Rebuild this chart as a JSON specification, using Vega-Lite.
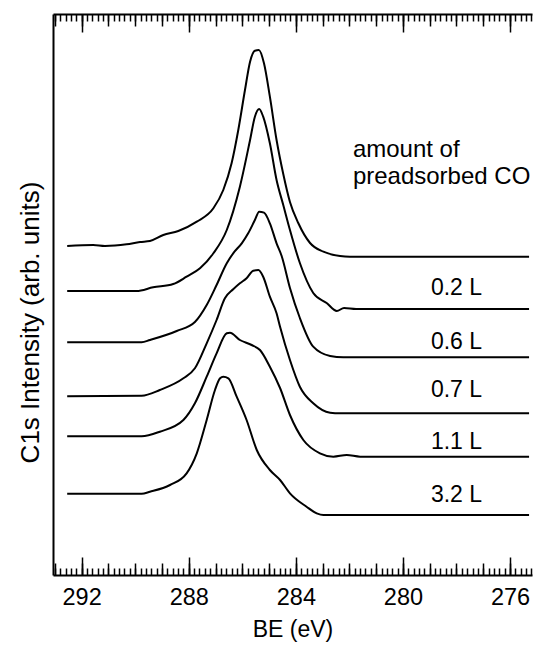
{
  "$schema": "https://vega.github.io/schema/vega-lite/v6.json",
  "width": 479,
  "height": 561,
  "autosize": {"type": "none"},
  "padding": {"left": 53, "top": 14, "right": 3, "bottom": 70},
  "background": "white",
  "config": {
    "view": {"stroke": null},
    "font": "Liberation Sans",
    "axis": {"grid": false, "domainColor": "black", "tickColor": "black", "labelColor": "black", "titleColor": "black", "titleFontWeight": "normal", "labelFont": "Liberation Sans", "titleFont": "Liberation Sans", "labelFontSize": 23.5, "titleFontSize": 23, "domainWidth": 2, "tickWidth": 1.5}
  },
  "datasets": {
    "curves": [
      {"series": "0 L", "BE": 292.54, "I": 329},
      {"series": "0 L", "BE": 291.57, "I": 330},
      {"series": "0 L", "BE": 291.13, "I": 329},
      {"series": "0 L", "BE": 290.32, "I": 330.7},
      {"series": "0 L", "BE": 289.82, "I": 333},
      {"series": "0 L", "BE": 289.45, "I": 334},
      {"series": "0 L", "BE": 288.95, "I": 340},
      {"series": "0 L", "BE": 288.39, "I": 344},
      {"series": "0 L", "BE": 287.70, "I": 353.3},
      {"series": "0 L", "BE": 287.08, "I": 366.7},
      {"series": "0 L", "BE": 286.71, "I": 385},
      {"series": "0 L", "BE": 286.40, "I": 411.7},
      {"series": "0 L", "BE": 286.15, "I": 445},
      {"series": "0 L", "BE": 285.90, "I": 485},
      {"series": "0 L", "BE": 285.71, "I": 513.3},
      {"series": "0 L", "BE": 285.53, "I": 524.3},
      {"series": "0 L", "BE": 285.38, "I": 525},
      {"series": "0 L", "BE": 285.19, "I": 511.7},
      {"series": "0 L", "BE": 284.97, "I": 478.3},
      {"series": "0 L", "BE": 284.72, "I": 435},
      {"series": "0 L", "BE": 284.47, "I": 401},
      {"series": "0 L", "BE": 284.22, "I": 373},
      {"series": "0 L", "BE": 283.91, "I": 352},
      {"series": "0 L", "BE": 283.47, "I": 332},
      {"series": "0 L", "BE": 282.97, "I": 323.3},
      {"series": "0 L", "BE": 282.35, "I": 319},
      {"series": "0 L", "BE": 281.98, "I": 318.3},
      {"series": "0 L", "BE": 275.29, "I": 318.3},

      {"series": "0.2 L", "BE": 292.54, "I": 284},
      {"series": "0.2 L", "BE": 289.95, "I": 284},
      {"series": "0.2 L", "BE": 289.33, "I": 287.7},
      {"series": "0.2 L", "BE": 288.58, "I": 291},
      {"series": "0.2 L", "BE": 288.08, "I": 298.3},
      {"series": "0.2 L", "BE": 287.58, "I": 306.7},
      {"series": "0.2 L", "BE": 287.08, "I": 321.7},
      {"series": "0.2 L", "BE": 286.58, "I": 345},
      {"series": "0.2 L", "BE": 286.09, "I": 388.3},
      {"series": "0.2 L", "BE": 285.71, "I": 435},
      {"series": "0.2 L", "BE": 285.53, "I": 458.3},
      {"series": "0.2 L", "BE": 285.37, "I": 466},
      {"series": "0.2 L", "BE": 285.22, "I": 458.3},
      {"series": "0.2 L", "BE": 284.97, "I": 431.7},
      {"series": "0.2 L", "BE": 284.72, "I": 395},
      {"series": "0.2 L", "BE": 284.47, "I": 370},
      {"series": "0.2 L", "BE": 284.22, "I": 345},
      {"series": "0.2 L", "BE": 283.85, "I": 312},
      {"series": "0.2 L", "BE": 283.35, "I": 282},
      {"series": "0.2 L", "BE": 282.85, "I": 272},
      {"series": "0.2 L", "BE": 282.47, "I": 264},
      {"series": "0.2 L", "BE": 282.2, "I": 267},
      {"series": "0.2 L", "BE": 281.75, "I": 266},
      {"series": "0.2 L", "BE": 275.29, "I": 266},

      {"series": "0.6 L", "BE": 292.54, "I": 232.7},
      {"series": "0.6 L", "BE": 289.76, "I": 232.7},
      {"series": "0.6 L", "BE": 289.45, "I": 235},
      {"series": "0.6 L", "BE": 288.45, "I": 244},
      {"series": "0.6 L", "BE": 287.77, "I": 253},
      {"series": "0.6 L", "BE": 287.33, "I": 270},
      {"series": "0.6 L", "BE": 286.96, "I": 290},
      {"series": "0.6 L", "BE": 286.58, "I": 311.7},
      {"series": "0.6 L", "BE": 286.34, "I": 321.7},
      {"series": "0.6 L", "BE": 286.02, "I": 331.7},
      {"series": "0.6 L", "BE": 285.78, "I": 341.7},
      {"series": "0.6 L", "BE": 285.53, "I": 355},
      {"series": "0.6 L", "BE": 285.37, "I": 363.3},
      {"series": "0.6 L", "BE": 285.19, "I": 362.3},
      {"series": "0.6 L", "BE": 284.97, "I": 351.7},
      {"series": "0.6 L", "BE": 284.72, "I": 331.7},
      {"series": "0.6 L", "BE": 284.53, "I": 319},
      {"series": "0.6 L", "BE": 284.22, "I": 287},
      {"series": "0.6 L", "BE": 283.85, "I": 257},
      {"series": "0.6 L", "BE": 283.35, "I": 228.3},
      {"series": "0.6 L", "BE": 282.72, "I": 219},
      {"series": "0.6 L", "BE": 282.23, "I": 217.7},
      {"series": "0.6 L", "BE": 275.29, "I": 217.7},

      {"series": "0.7 L", "BE": 292.54, "I": 178.7},
      {"series": "0.7 L", "BE": 289.76, "I": 179.3},
      {"series": "0.7 L", "BE": 289.08, "I": 185},
      {"series": "0.7 L", "BE": 288.20, "I": 196.7},
      {"series": "0.7 L", "BE": 287.77, "I": 206.7},
      {"series": "0.7 L", "BE": 287.33, "I": 231.7},
      {"series": "0.7 L", "BE": 286.96, "I": 255},
      {"series": "0.7 L", "BE": 286.65, "I": 276.7},
      {"series": "0.7 L", "BE": 286.34, "I": 285.7},
      {"series": "0.7 L", "BE": 286.09, "I": 291.7},
      {"series": "0.7 L", "BE": 285.84, "I": 296.7},
      {"series": "0.7 L", "BE": 285.59, "I": 304.3},
      {"series": "0.7 L", "BE": 285.40, "I": 305},
      {"series": "0.7 L", "BE": 285.22, "I": 298.3},
      {"series": "0.7 L", "BE": 284.97, "I": 278.3},
      {"series": "0.7 L", "BE": 284.72, "I": 261.7},
      {"series": "0.7 L", "BE": 284.59, "I": 248.3},
      {"series": "0.7 L", "BE": 284.22, "I": 215},
      {"series": "0.7 L", "BE": 283.85, "I": 188.3},
      {"series": "0.7 L", "BE": 283.35, "I": 171.7},
      {"series": "0.7 L", "BE": 282.72, "I": 162.3},
      {"series": "0.7 L", "BE": 282.35, "I": 161.7},
      {"series": "0.7 L", "BE": 275.29, "I": 161.7},

      {"series": "1.1 L", "BE": 292.54, "I": 138.7},
      {"series": "1.1 L", "BE": 289.76, "I": 138.7},
      {"series": "1.1 L", "BE": 289.08, "I": 143.3},
      {"series": "1.1 L", "BE": 288.20, "I": 155},
      {"series": "1.1 L", "BE": 287.77, "I": 171.7},
      {"series": "1.1 L", "BE": 287.33, "I": 198.3},
      {"series": "1.1 L", "BE": 286.96, "I": 221.7},
      {"series": "1.1 L", "BE": 286.58, "I": 241.7},
      {"series": "1.1 L", "BE": 286.46, "I": 242.3},
      {"series": "1.1 L", "BE": 286.09, "I": 235},
      {"series": "1.1 L", "BE": 285.65, "I": 230},
      {"series": "1.1 L", "BE": 285.34, "I": 225},
      {"series": "1.1 L", "BE": 284.97, "I": 208.3},
      {"series": "1.1 L", "BE": 284.59, "I": 187},
      {"series": "1.1 L", "BE": 284.22, "I": 160},
      {"series": "1.1 L", "BE": 283.72, "I": 135},
      {"series": "1.1 L", "BE": 283.10, "I": 121.7},
      {"series": "1.1 L", "BE": 282.60, "I": 118.3},
      {"series": "1.1 L", "BE": 282.10, "I": 120},
      {"series": "1.1 L", "BE": 281.60, "I": 118.3},
      {"series": "1.1 L", "BE": 275.29, "I": 118.3},

      {"series": "3.2 L", "BE": 292.54, "I": 81.3},
      {"series": "3.2 L", "BE": 289.76, "I": 81.3},
      {"series": "3.2 L", "BE": 289.45, "I": 83.3},
      {"series": "3.2 L", "BE": 288.70, "I": 90},
      {"series": "3.2 L", "BE": 288.08, "I": 101.7},
      {"series": "3.2 L", "BE": 287.70, "I": 121.7},
      {"series": "3.2 L", "BE": 287.33, "I": 155},
      {"series": "3.2 L", "BE": 287.02, "I": 185},
      {"series": "3.2 L", "BE": 286.83, "I": 196.7},
      {"series": "3.2 L", "BE": 286.71, "I": 198.3},
      {"series": "3.2 L", "BE": 286.52, "I": 196.7},
      {"series": "3.2 L", "BE": 286.21, "I": 178.3},
      {"series": "3.2 L", "BE": 285.84, "I": 155},
      {"series": "3.2 L", "BE": 285.46, "I": 125},
      {"series": "3.2 L", "BE": 284.97, "I": 105},
      {"series": "3.2 L", "BE": 284.59, "I": 95},
      {"series": "3.2 L", "BE": 284.22, "I": 81.7},
      {"series": "3.2 L", "BE": 283.60, "I": 68.3},
      {"series": "3.2 L", "BE": 283.22, "I": 61.7},
      {"series": "3.2 L", "BE": 282.97, "I": 60},
      {"series": "3.2 L", "BE": 275.29, "I": 60}
    ],
    "header": [
      {"BE": 281.87, "I": 425, "text": "amount of"},
      {"BE": 281.87, "I": 398, "text": "preadsorbed CO"}
    ],
    "labels": [
      {"BE": 278.0, "I": 286.7, "text": "0.2 L"},
      {"BE": 278.0, "I": 233.3, "text": "0.6 L"},
      {"BE": 278.0, "I": 185, "text": "0.7 L"},
      {"BE": 278.0, "I": 133.3, "text": "1.1 L"},
      {"BE": 278.0, "I": 80, "text": "3.2 L"}
    ]
  },
  "resolve": {"axis": {"x": "independent", "y": "independent"}},
  "layer": [
    {
      "data": {"name": "curves"},
      "mark": {"type": "line", "color": "black", "strokeWidth": 2, "interpolate": "monotone"},
      "encoding": {
        "x": {
          "field": "BE", "type": "quantitative",
          "scale": {"domain": [275.18, 293.07], "reverse": true, "nice": false, "zero": false},
          "axis": {
            "orient": "bottom", "title": "BE (eV)", "titlePadding": 10, "labelPadding": 10, "labelOverlap": false, "format": "d",
            "values": [276, 280, 284, 288, 292], "ticks": false
          }
        },
        "y": {
          "field": "I", "type": "quantitative",
          "scale": {"domain": [0, 561], "nice": false, "zero": false},
          "axis": {"title": "C1s Intensity (arb. units)", "ticks": false, "labels": false, "titlePadding": 10, "titleFontSize": 26, "titleY": 308}
        },
        "detail": {"field": "series"}
      }
    },
    {
      "data": {"name": "header"},
      "mark": {"type": "text", "align": "left", "baseline": "middle", "fontSize": 24, "font": "Liberation Sans", "color": "black"},
      "encoding": {
        "x": {
          "field": "BE", "type": "quantitative",
          "axis": {"orient": "top", "title": null, "labels": false, "ticks": false}
        },
        "y": {"field": "I", "type": "quantitative", "axis": null},
        "text": {"field": "text"}
      }
    },
    {
      "data": {"name": "labels"},
      "mark": {"type": "text", "align": "center", "baseline": "middle", "fontSize": 23, "font": "Liberation Sans", "color": "black"},
      "encoding": {
        "x": {
          "field": "BE", "type": "quantitative",
          "axis": {"orient": "bottom", "title": null, "labels": false, "domain": false, "values": [276, 280, 284, 288, 292], "tickSize": 18, "offset": -18}
        },
        "y": {"field": "I", "type": "quantitative", "axis": null},
        "text": {"field": "text"}
      }
    },
    {
      "data": {"name": "labels"},
      "mark": {"type": "text", "opacity": 0},
      "encoding": {
        "x": {
          "field": "BE", "type": "quantitative",
          "axis": {"orient": "top", "title": null, "labels": false, "domain": false, "values": [276, 280, 284, 288, 292], "tickSize": 18, "offset": -18}
        },
        "y": {"field": "I", "type": "quantitative", "axis": null},
        "text": {"field": "text"}
      }
    },
    {
      "data": {"name": "labels"},
      "mark": {"type": "text", "opacity": 0},
      "encoding": {
        "x": {
          "field": "BE", "type": "quantitative",
          "axis": {"orient": "bottom", "title": null, "labels": false, "domain": false, "values": [276,277,278,279,280,281,282,283,284,285,286,287,288,289,290,291,292,293], "tickSize": 12, "offset": -12}
        },
        "y": {"field": "I", "type": "quantitative", "axis": null},
        "text": {"field": "text"}
      }
    },
    {
      "data": {"name": "labels"},
      "mark": {"type": "text", "opacity": 0},
      "encoding": {
        "x": {
          "field": "BE", "type": "quantitative",
          "axis": {"orient": "top", "title": null, "labels": false, "domain": false, "values": [276,277,278,279,280,281,282,283,284,285,286,287,288,289,290,291,292,293], "tickSize": 12, "offset": -12}
        },
        "y": {"field": "I", "type": "quantitative", "axis": null},
        "text": {"field": "text"}
      }
    },
    {
      "data": {"name": "labels"},
      "mark": {"type": "text", "opacity": 0},
      "encoding": {
        "x": {
          "field": "BE", "type": "quantitative",
          "axis": {"orient": "bottom", "title": null, "labels": false, "domain": false, "tickSize": 7, "offset": -7,
            "values": [275.2,275.4,275.6,275.8,276,276.2,276.4,276.6,276.8,277,277.2,277.4,277.6,277.8,278,278.2,278.4,278.6,278.8,279,279.2,279.4,279.6,279.8,280,280.2,280.4,280.6,280.8,281,281.2,281.4,281.6,281.8,282,282.2,282.4,282.6,282.8,283,283.2,283.4,283.6,283.8,284,284.2,284.4,284.6,284.8,285,285.2,285.4,285.6,285.8,286,286.2,286.4,286.6,286.8,287,287.2,287.4,287.6,287.8,288,288.2,288.4,288.6,288.8,289,289.2,289.4,289.6,289.8,290,290.2,290.4,290.6,290.8,291,291.2,291.4,291.6,291.8,292,292.2,292.4,292.6,292.8,293]}
        },
        "y": {"field": "I", "type": "quantitative", "axis": null},
        "text": {"field": "text"}
      }
    },
    {
      "data": {"name": "labels"},
      "mark": {"type": "text", "opacity": 0},
      "encoding": {
        "x": {
          "field": "BE", "type": "quantitative",
          "axis": {"orient": "top", "title": null, "labels": false, "domain": false, "tickSize": 7, "offset": -7,
            "values": [275.2,275.4,275.6,275.8,276,276.2,276.4,276.6,276.8,277,277.2,277.4,277.6,277.8,278,278.2,278.4,278.6,278.8,279,279.2,279.4,279.6,279.8,280,280.2,280.4,280.6,280.8,281,281.2,281.4,281.6,281.8,282,282.2,282.4,282.6,282.8,283,283.2,283.4,283.6,283.8,284,284.2,284.4,284.6,284.8,285,285.2,285.4,285.6,285.8,286,286.2,286.4,286.6,286.8,287,287.2,287.4,287.6,287.8,288,288.2,288.4,288.6,288.8,289,289.2,289.4,289.6,289.8,290,290.2,290.4,290.6,290.8,291,291.2,291.4,291.6,291.8,292,292.2,292.4,292.6,292.8,293]}
        },
        "y": {"field": "I", "type": "quantitative", "axis": null},
        "text": {"field": "text"}
      }
    }
  ]
}
